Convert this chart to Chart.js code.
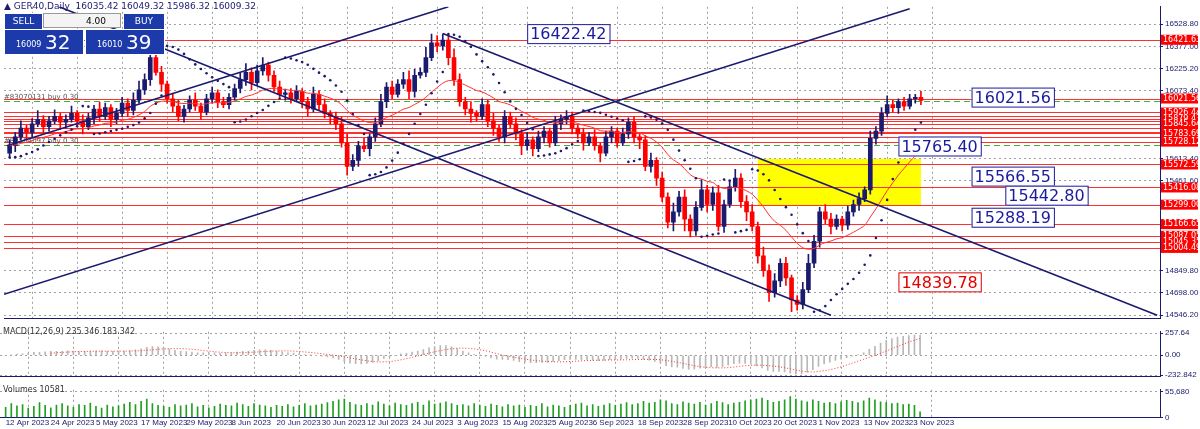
<!DOCTYPE html>
<html>
<head>
<meta charset="utf-8">
<title>GER40 Daily</title>
<script src="https://cdn.jsdelivr.net/npm/chart.js@4.4.0/dist/chart.umd.min.js"></script>
<style>
  body { margin:0; width:1200px; height:429px; overflow:hidden; background:#fff; font-family:Tahoma,"DejaVu Sans",sans-serif; position:relative; }
  .pane { position:absolute; left:0; width:1200px; }
  .ttl { position:absolute; left:4px; top:1px; font-size:9px; color:#1a1a6e; }
  .trade { position:absolute; left:4px; top:13px; width:160px; height:40px; }
  .btn { position:absolute; background:#1c3aa9; color:#fff; border:1px solid #fff; }
</style>
</head>
<body>
<div class="pane" style="top:0;height:325px"><canvas id="main"></canvas></div>
<div class="pane" style="top:325px;height:58px"><canvas id="macd"></canvas></div>
<div class="pane" style="top:383px;height:46px"><canvas id="vol"></canvas></div>
<div class="ttl">▲ GER40,Daily &nbsp;16035.42 16049.32 15986.32 16009.32</div>
<div class="trade">
  <div class="btn" style="left:0;top:0;width:37px;height:15px;font-size:9px;text-align:center;line-height:15px">SELL</div>
  <div style="position:absolute;left:39px;top:0;width:78px;height:15px;background:#f4f4f4;border:1px solid #999;font-size:9px;text-align:right;line-height:15px;box-sizing:border-box;padding-right:14px">4.00</div>
  <div class="btn" style="left:119px;top:0;width:40px;height:15px;font-size:9px;text-align:center;line-height:15px">BUY</div>
  <div class="btn" style="left:0;top:16px;width:78px;height:24px;font-size:8px"><span style="position:absolute;left:11px;top:10px">16009</span><span style="position:absolute;left:40px;top:0;font-size:20px">32</span></div>
  <div class="btn" style="left:81px;top:16px;width:78px;height:24px;font-size:8px"><span style="position:absolute;left:11px;top:10px">16010</span><span style="position:absolute;left:40px;top:0;font-size:20px">39</span></div>
</div>
<script>
// daily closes, 12 Apr 2023 .. 24 Nov 2023
var closes = [15700,15760,15820,15790,15850,15880,15830,15870,15900,15860,
  15880,15920,15870,15830,15890,15950,15900,15960,15880,15920,
  15990,15940,16010,16080,16150,16300,16200,16120,16020,15970,
  15900,15950,16010,15970,15930,16020,16060,16000,15980,16030,
  16090,16150,16200,16130,16210,16250,16180,16100,16050,16060,
  16020,16070,16000,15950,16050,15980,15920,15900,15850,15720,
  15560,15600,15700,15680,15760,15850,16000,16100,16050,16120,
  16150,16070,16180,16200,16300,16400,16380,16420,16300,16150,
  16000,15950,15920,15900,15980,15870,15820,15760,15900,15850,
  15780,15700,15740,15680,15760,15800,15720,15850,15880,15900,
  15820,15780,15720,15760,15700,15650,15760,15800,15720,15780,
  15860,15760,15740,15560,15600,15480,15350,15180,15250,15350,
  15200,15120,15280,15400,15300,15380,15150,15300,15420,15480,
  15320,15250,15150,14950,14850,14700,14780,14900,14800,14650,
  14620,14720,14900,15050,15250,15200,15150,15200,15160,15250,
  15300,15340,15400,15750,15800,15920,15980,15960,16000,15970,
  16020,16030,16009];
var firstOpen = 15650;
var wickUp = [40,30,50,20,35,60,25,30,45,20, 30,50,20,40,30,25,45,30,20,35,
  40,30,50,60,40,80,30,40,20,30, 40,25,30,50,20,30,40,20,30,25,
  30,45,60,30,40,50,20,30,40,25, 30,40,20,30,50,25,40,20,30,45,
  60,40,30,50,20,40,50,30,40,30, 50,60,40,30,70,60,50,40,30,60,
  40,30,50,20,40,30,50,20,40,30, 40,30,50,20,40,30,20,50,30,40,
  30,20,40,30,50,20,40,30,20,40, 30,40,20,30,50,20,40,30,60,40,
  50,30,40,70,30,40,50,30,40,60, 30,40,50,30,60,40,50,30,40,20,
  30,50,60,40,30,50,40,30,20,40, 30,40,20,50,30,40,60,30,20,30,
  30,20,40];
var wickDn = [30,40,20,50,30,20,40,30,20,50, 40,20,30,50,20,40,30,20,50,30,
  20,40,30,20,30,40,20,50,30,40, 30,40,20,30,50,20,30,40,20,30,
  20,30,40,50,20,30,40,30,20,40, 30,20,40,50,20,40,30,50,40,30,
  60,30,40,20,50,30,20,40,30,20, 30,50,40,20,30,20,40,30,50,40,
  30,40,60,30,20,40,50,30,40,30, 40,60,30,50,20,40,30,20,40,30,
  40,30,50,20,30,60,20,40,30,20, 30,40,60,30,40,50,30,40,60,30,
  80,40,30,20,50,40,30,40,20,30, 40,60,30,50,40,60,30,40,50,80,
  40,30,20,30,40,30,50,20,40,30, 30,40,20,30,40,30,20,30,40,30,
  20,30,30];
// volume, thousands
var vol = [22,30,25,28,20,24,32,26,21,27, 30,25,22,28,26,31,24,20,27,23,
  25,29,33,28,35,40,30,26,24,22, 28,25,27,30,23,26,21,24,29,26,
  25,31,28,24,30,27,25,22,26,24, 28,23,26,30,25,27,29,32,35,38,
  40,33,28,26,30,27,34,29,25,31, 28,26,30,33,27,36,29,31,34,30,
  26,28,25,30,27,24,29,26,23,28, 25,27,22,26,24,30,23,27,25,22,
  26,29,31,25,28,24,27,30,26,29, 32,28,30,35,31,33,38,36,30,28,
  34,31,29,33,27,30,35,32,28,31, 33,36,38,40,42,37,33,35,38,45,
  40,36,34,38,35,31,33,30,34,37, 35,32,36,42,38,34,33,30,31,28,
  29,26,12];
var dateLabels = ["12 Apr 2023","24 Apr 2023","5 May 2023","17 May 2023","29 May 2023","8 Jun 2023",
  "20 Jun 2023","30 Jun 2023","12 Jul 2023","24 Jul 2023","3 Aug 2023","15 Aug 2023","25 Aug 2023",
  "6 Sep 2023","18 Sep 2023","28 Sep 2023","10 Oct 2023","20 Oct 2023","1 Nov 2023","13 Nov 2023","23 Nov 2023"];
var priceTicks = [14546.20,14698.00,14849.80,15461.60,15613.40,16073.40,16225.20,16377.00,16528.80];
var levels = [16421.63,16021.56,15926.44,15879.43,15845.64,15783.69,15728.12,15572.59,15416.08,15299.00,15166.65,15087.05,15045.35,15004.49];
var extraLines = [15905,15868,15820,15795,15760];
var greenLevels = [16006,15703];
var priceNotes = [
  {t:"16422.42", x:92, y:16460, c:"#1a1a9e"},
  {t:"16021.56", x:171, y:16028, c:"#1a1a9e"},
  {t:"15765.40", x:158, y:15695, c:"#1a1a9e"},
  {t:"15566.55", x:171, y:15490, c:"#1a1a9e"},
  {t:"15442.80", x:177, y:15360, c:"#1a1a9e"},
  {t:"15288.19", x:171, y:15210, c:"#1a1a9e"},
  {t:"14839.78", x:158, y:14770, c:"#e00000"}];
// trend lines: [index, price] pairs
var trendLines = [[[-1,14689],[160,16633]], [[-0.5,15700],[78,16646]],
  [[77,16464],[204,14546]], [[8.8,16646],[146,14546]]];
var yellowBox = {x0:133, x1:162, y0:15610, y1:15290};

var N = closes.length;
var opens = [], highs = [], lows = [];
for (var i = 0; i < N; i++) {
  var o = i == 0 ? firstOpen : closes[i-1];
  opens.push(o);
  highs.push(Math.max(o, closes[i]) + wickUp[i]);
  lows.push(Math.min(o, closes[i]) - wickDn[i]);
}
function ema(a, n) { var k = 2/(n+1), r = [a[0]]; for (var i = 1; i < a.length; i++) r.push(a[i]*k + r[i-1]*(1-k)); return r; }
var ma = ema(closes, 20);
var e12 = ema(closes, 12), e26 = ema(closes, 26);
var macd = e12.map(function (v, i) { return v - e26[i]; });
var sig = macd.map(function (v, i) { if (i < 8) return null; var s = 0; for (var j = i-8; j <= i; j++) s += macd[j]; return s/9; });
// parabolic SAR
var sar = [], up = true, af = 0.02, ep = highs[0], s = lows[0];
for (var i = 0; i < N; i++) {
  if (i > 0) {
    s = s + af*(ep - s);
    if (up) {
      if (lows[i] < s) { up = false; s = ep; ep = lows[i]; af = 0.02; }
      else if (highs[i] > ep) { ep = highs[i]; af = Math.min(0.2, af+0.02); }
    } else {
      if (highs[i] > s) { up = true; s = ep; ep = highs[i]; af = 0.02; }
      else if (lows[i] < ep) { ep = lows[i]; af = Math.min(0.2, af+0.02); }
    }
  }
  sar.push({x:i, y:s});
}

var XMIN = -1, XMAX = 204.5;
function fixW(ax) { ax.width = 40; }
var navy = '#1a1a6e';
var gridX = { color:'#a0a0a0', lineWidth:1, drawTicks:false };
var borderX = { color:navy, dash:[2,3] };
var bull = navy, bear = '#ff0000';
var colors = closes.map(function (c, i) { return c >= opens[i] ? bull : bear; });
function dateTicks(ax) { ax.ticks = dateLabels.map(function (d, k) { return {value:k*8}; }); }

var overlay = {
  id:'overlay',
  beforeDatasetsDraw: function (ch) {
    var c = ch.ctx, x = ch.scales.x, y = ch.scales.y, a = ch.chartArea;
    c.save();
    c.fillStyle = '#ffff00';
    c.fillRect(x.getPixelForValue(yellowBox.x0), y.getPixelForValue(yellowBox.y0),
      x.getPixelForValue(yellowBox.x1) - x.getPixelForValue(yellowBox.x0),
      y.getPixelForValue(yellowBox.y1) - y.getPixelForValue(yellowBox.y0));
    c.strokeStyle = '#ff3030'; c.lineWidth = 1;
    levels.concat(extraLines).forEach(function (p) {
      var py = Math.round(y.getPixelForValue(p)) + 0.5;
      c.beginPath(); c.moveTo(a.left, py); c.lineTo(a.right, py); c.stroke();
    });
    c.strokeStyle = '#40b040'; c.setLineDash([6,4]);
    greenLevels.forEach(function (p) {
      var py = Math.round(y.getPixelForValue(p)) + 0.5;
      c.beginPath(); c.moveTo(a.left, py); c.lineTo(a.right, py); c.stroke();
    });
    c.setLineDash([]);
    c.font = '7px Tahoma, "DejaVu Sans"'; c.fillStyle = '#555';
    c.fillText('#83070131 buy 0.30', 4, y.getPixelForValue(16006) - 2);
    c.fillText('#83504097 buy 0.30', 4, y.getPixelForValue(15703) - 2);
    c.restore();
  },
  afterDatasetsDraw: function (ch) {
    var c = ch.ctx, x = ch.scales.x, y = ch.scales.y, a = ch.chartArea;
    c.save();
    c.beginPath(); c.rect(a.left, a.top, a.right - a.left, a.bottom - a.top); c.clip();
    c.strokeStyle = navy; c.lineWidth = 1.6;
    trendLines.forEach(function (l) {
      c.beginPath();
      c.moveTo(x.getPixelForValue(l[0][0]), y.getPixelForValue(l[0][1]));
      c.lineTo(x.getPixelForValue(l[1][0]), y.getPixelForValue(l[1][1]));
      c.stroke();
    });
    c.font = '16px Tahoma, "DejaVu Sans"'; c.textBaseline = 'middle';
    priceNotes.forEach(function (n) {
      var px = x.getPixelForValue(n.x), py = y.getPixelForValue(n.y), w = c.measureText(n.t).width + 6;
      c.fillStyle = '#fff'; c.fillRect(px, py - 10, w, 20);
      c.strokeStyle = n.c; c.lineWidth = 1; c.strokeRect(px + 0.5, py - 9.5, w, 19);
      c.fillStyle = n.c; c.fillText(n.t, px + 3, py + 1);
    });
    c.restore();
    c.save();
    c.font = '8px Tahoma, "DejaVu Sans"'; c.textBaseline = 'middle';
    levels.forEach(function (p) {
      var py = y.getPixelForValue(p);
      c.fillStyle = '#ff0000'; c.fillRect(a.right + 1, py - 5, 37, 10);
      c.fillStyle = '#fff'; c.fillText(p.toFixed(2), a.right + 3, py);
    });
    c.restore();
  }
};

new Chart(document.getElementById('main'), {
  type:'bar',
  data:{ datasets:[
    { type:'scatter', data:sar, pointRadius:1.3, pointBackgroundColor:navy, pointBorderWidth:0, order:1 },
    { type:'line', data:ma.map(function (v, i) { return {x:i, y:v}; }), borderColor:'#ff3030', borderWidth:1, pointRadius:0, tension:0.3, order:2 },
    { data:closes.map(function (c, i) { return {x:i, y:[opens[i], c]}; }), backgroundColor:colors, barThickness:4, order:3 },
    { data:closes.map(function (c, i) { return {x:i, y:[lows[i], highs[i]]}; }), backgroundColor:colors, barThickness:1, order:4 }
  ]},
  options:{
    responsive:true, maintainAspectRatio:false, animation:false,
    layout:{ padding:0 },
    datasets:{ bar:{ grouped:false } },
    plugins:{ legend:{display:false}, tooltip:{enabled:false} },
    scales:{
      x:{ type:'linear', offset:false, min:XMIN, max:XMAX, grid:gridX, border:borderX,
        afterBuildTicks:dateTicks, ticks:{ display:false } },
      y:{ position:'right', min:14526, max:16646, afterFit:fixW, border:borderX,
        grid:{ color:'#a0a0a0', drawTicks:true, tickLength:3, tickColor:navy },
        afterBuildTicks:function (ax) { ax.ticks = priceTicks.map(function (v) { return {value:v}; }); },
        ticks:{ color:navy, font:{size:8}, padding:2, callback:function (v) { return v.toFixed(2); } } }
    }
  },
  plugins:[overlay]
});

new Chart(document.getElementById('macd'), {
  type:'bar',
  data:{ datasets:[
    { type:'line', data:sig.map(function (v, i) { return {x:i, y:v}; }), borderColor:'#ff3030', borderWidth:1, borderDash:[1,2], pointRadius:0 },
    { data:macd.map(function (v, i) { return {x:i, y:v}; }), backgroundColor:'#b8b8b8', barThickness:1 }
  ]},
  options:{
    responsive:true, maintainAspectRatio:false, animation:false, layout:{padding:0},
    plugins:{ legend:{display:false}, tooltip:{enabled:false} },
    scales:{
      x:{ type:'linear', offset:false, min:XMIN, max:XMAX, grid:gridX, border:borderX, ticks:{display:false},
        afterBuildTicks:dateTicks },
      y:{ position:'right', min:-245, max:275, afterFit:fixW, border:borderX,
        grid:{ color:'#a0a0a0', tickLength:3, tickColor:navy },
        afterBuildTicks:function (ax) { ax.ticks = [{value:-232.842},{value:0},{value:257.64}]; },
        ticks:{ color:navy, font:{size:8}, padding:2, callback:function (v) { return v == 0 ? '0.00' : String(v); } } }
    }
  },
  plugins:[{ id:'lbl', afterDraw:function (ch) { var c = ch.ctx; c.save(); c.font = '8px Tahoma, "DejaVu Sans"'; c.fillStyle = '#333';
    c.fillText('MACD(12,26,9) 235.346 183.342', 3, 9); c.restore(); } }]
});

new Chart(document.getElementById('vol'), {
  type:'bar',
  data:{ datasets:[
    { data:vol.map(function (v, i) { return {x:i, y:v*1000}; }), backgroundColor:'#20a020', barThickness:1 }
  ]},
  options:{
    responsive:true, maintainAspectRatio:false, animation:false, layout:{padding:0},
    plugins:{ legend:{display:false}, tooltip:{enabled:false} },
    scales:{
      x:{ type:'linear', offset:false, min:XMIN, max:XMAX, grid:gridX, border:borderX, afterBuildTicks:dateTicks,
        ticks:{ color:navy, font:{size:8}, padding:1, maxRotation:0, autoSkip:false, align:'start',
          callback:function (v) { return dateLabels[Math.round(v/8)]; } } },
      y:{ position:'right', min:0, max:60000, afterFit:fixW, border:borderX,
        grid:{ color:'#a0a0a0', tickLength:3, tickColor:navy },
        afterBuildTicks:function (ax) { ax.ticks = [{value:0},{value:55680}]; },
        ticks:{ color:navy, font:{size:8}, padding:2 } }
    }
  },
  plugins:[{ id:'lbl2', afterDraw:function (ch) { var c = ch.ctx; c.save(); c.font = '8px Tahoma, "DejaVu Sans"'; c.fillStyle = '#333';
    c.fillText('Volumes 10581', 3, 9); c.restore(); } }]
});
</script>
</body>
</html>
